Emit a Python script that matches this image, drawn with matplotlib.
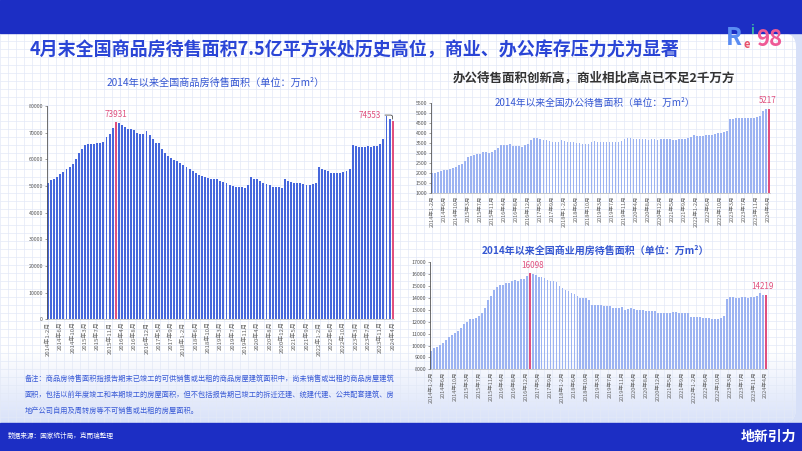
import matplotlib
matplotlib.use('Agg')
import matplotlib.pyplot as plt
import numpy as np
from matplotlib.patches import Rectangle, FancyBboxPatch
from matplotlib.collections import LineCollection

plt.rcParams['font.family'] = ['Noto Sans CJK SC', 'DejaVu Sans']

W, H = 802, 451

# x tick labels, one every 4 months (2014年1-2月 ... 2024年4月, 113 bars)
tick_labels = ['2014年1-2月', '2014年6月', '2014年10月', '2015年3月', '2015年7月', '2015年11月',
               '2016年4月', '2016年8月', '2016年12月', '2017年5月', '2017年9月', '2018年1-2月',
               '2018年6月', '2018年10月', '2019年3月', '2019年7月', '2019年11月', '2020年4月',
               '2020年8月', '2020年12月', '2021年5月', '2021年9月', '2022年1-2月', '2022年6月',
               '2022年10月', '2023年3月', '2023年7月', '2023年11月', '2024年4月']

# 全国商品房待售面积 (万m2)
total_stock = [51250, 52250, 52750, 53500, 54500, 55250, 56250, 57250, 58250, 60000, 62250,
               64000, 65250, 65600, 65750, 65750, 66250, 66250, 66500, 68250, 69400, 71900,
               73931, 73700, 72750, 72250, 71500, 71500, 71000, 69750, 69500, 69500, 70500,
               69000, 67750, 66250, 66000, 64000, 62500, 61250, 60500, 59750, 59250, 58750,
               58000, 57000, 56500, 55750, 55000, 54250, 53750, 53250, 53000, 52750, 52750,
               52500, 52000, 51500, 51000, 50250, 50000, 49750, 49500, 49500, 49250, 50250,
               53250, 52750, 52500, 51750, 51250, 50750, 50250, 49750, 49750, 49500, 49250,
               52500, 51750, 51500, 51250, 51250, 51000, 50750, 50500, 50500, 50750, 51000,
               57250, 56250, 56000, 55750, 55000, 55000, 54750, 54750, 55250, 55500, 56500,
               65500, 65000, 64750, 64500, 64750, 65000, 64750, 65000, 65000, 65750, 67500,
               76250, 75250, 74553]
total_marks = [22, 112]

# 全国办公待售面积 (万m2)
office_stock = [2000, 2020, 2050, 2100, 2150, 2170, 2220, 2270, 2330, 2400, 2470,
                2630, 2830, 2870, 2920, 2950, 2980, 3070, 3070, 3000, 3070, 3150,
                3280, 3430, 3400, 3430, 3450, 3370, 3370, 3370, 3330, 3400, 3470,
                3670, 3780, 3750, 3700, 3670, 3670, 3630, 3580, 3580, 3580, 3670,
                3630, 3580, 3580, 3570, 3500, 3500, 3470, 3470, 3470, 3570, 3630,
                3580, 3560, 3550, 3550, 3560, 3570, 3580, 3580, 3600, 3730, 3750,
                3760, 3720, 3710, 3700, 3700, 3700, 3690, 3700, 3700, 3690, 3700,
                3730, 3710, 3700, 3680, 3690, 3700, 3720, 3730, 3760, 3800, 3900,
                3870, 3850, 3880, 3900, 3910, 3920, 3950, 4000, 4030, 4060, 4100,
                4700, 4720, 4770, 4770, 4770, 4750, 4760, 4760, 4770, 4800, 4870,
                5130, 5200, 5217]
office_marks = [112]

# 全国商业用房待售面积 (万m2)
commercial_stock = [9570, 9760, 9900, 10040, 10240, 10460, 10690, 10860, 11080, 11250, 11450,
                    11800, 12000, 12200, 12260, 12300, 12480, 12700, 13150, 13820, 14200, 14660,
                    14890, 15060, 15100, 15220, 15300, 15450, 15500, 15450, 15560, 15600, 15850,
                    16098, 16040, 15950, 15780, 15730, 15640, 15500, 15450, 15390, 15360, 15000,
                    14800, 14660, 14550, 14380, 14300, 14160, 13990, 13990, 13960, 13820, 13380,
                    13380, 13400, 13380, 13320, 13320, 13320, 13150, 13150, 13150, 13200, 12980,
                    13100, 13150, 13050, 12980, 12980, 12980, 12930, 12930, 12930, 12930, 12700,
                    12700, 12700, 12760, 12760, 12810, 12810, 12760, 12700, 12700, 12700, 12420,
                    12370, 12370, 12370, 12310, 12310, 12310, 12260, 12260, 12260, 12310, 12480,
                    13940, 14050, 14050, 14000, 14000, 14050, 14050, 14000, 14050, 14050, 14200,
                    14380, 14270, 14219]
commercial_marks = [33, 112]

BLUE_DARK = '#1c2ec4'
TITLE_BLUE = '#2a45d6'
SUB_BLUE = '#3557d2'
MARK_RED = '#e0507e'


def px(x, y):
    return x / W, 1 - y / H


def add_chart(values, marks, left, right, top, bottom, ylim, ystep, color, labelsize):
    ax = fig.add_axes([left / W, 1 - bottom / H, (right - left) / W, (bottom - top) / H])
    ax.patch.set_alpha(0)
    x = np.arange(len(values))
    colors = [MARK_RED if i in marks else color for i in x]
    ax.bar(x, np.array(values) - ylim[0], bottom=ylim[0], width=0.62, color=colors,
           linewidth=0, antialiased=False)
    ax.set_xlim(-0.5, len(values) - 0.5)
    ax.set_ylim(*ylim)
    ax.set_yticks(np.arange(ylim[0], ylim[1] + 1, ystep))
    ax.set_xticks(np.arange(0, len(values), 4))
    ax.set_xticklabels(tick_labels, rotation=90, fontsize=labelsize, color='#666666')
    ax.tick_params(axis='y', labelsize=3.8, colors='#555555', length=1.5, width=0.4, pad=1)
    ax.tick_params(axis='x', length=0, pad=1.5)
    for s in ['top', 'right']:
        ax.spines[s].set_visible(False)
    ax.spines['left'].set_color('#555555')
    ax.spines['left'].set_linewidth(0.6)
    ax.spines['bottom'].set_color('#aaaaaa')
    ax.spines['bottom'].set_linewidth(0.4)
    return ax


fig = plt.figure(figsize=(W / 100, H / 100), dpi=100)

# slide background
bg = fig.add_axes([0, 0, 1, 1])
bg.set_xlim(0, W)
bg.set_ylim(H, 0)
bg.axis('off')
bg.add_patch(Rectangle((0, 0), W, H, color='#d7e0f8', zorder=0))
panel = FancyBboxPatch((-20, 33), 816, 390, boxstyle='round,pad=0,rounding_size=14',
                       fc='white', ec='none', zorder=1)
bg.add_patch(panel)
grad = np.zeros((100, 2, 4))
grad[..., :3] = np.array([0.80, 0.85, 0.97])
grad[..., 3] = np.linspace(0, 0.75, 100)[:, None]
im = bg.imshow(grad, extent=(0, 796, 423, 350), aspect='auto', zorder=2)
im.set_clip_path(panel)
segs = [[(gx, 33), (gx, 423)] for gx in np.arange(0, W, 8)]
segs += [[(0, gy), (W, gy)] for gy in np.arange(33, 423, 8)]
lc = LineCollection(segs, colors='#e3e9f7', linewidths=0.5, zorder=3)
bg.add_collection(lc)
lc.set_clip_path(panel)
bg.add_patch(Rectangle((0, 0), W, 33, color=BLUE_DARK, zorder=4))
bg.add_patch(Rectangle((0, 423), W, 28, color=BLUE_DARK, zorder=4))
bg.set_xlim(0, W)
bg.set_ylim(H, 0)

# logo
fig.text(*px(726, 38), 'R', fontsize=17, color='#5a8cf2', weight='bold', va='center')
fig.text(*px(744, 44), 'e', fontsize=8, color='#e8506a', weight='bold', va='center')
fig.text(*px(750, 30), 'i', fontsize=9, color='#3cb4a0', weight='bold', va='center')
fig.text(*px(756, 40), '98', fontsize=16, color='#ee5a96', weight='bold', va='center')

# titles
fig.text(*px(30, 50), '4月末全国商品房待售面积7.5亿平方米处历史高位，商业、办公库存压力尤为显著',
         fontsize=13, color=TITLE_BLUE, weight='bold', va='center')
fig.text(*px(216, 83), '2014年以来全国商品房待售面积（单位：万m²）', fontsize=7.3,
         color=SUB_BLUE, ha='center', va='center')
fig.text(*px(594, 78), '办公待售面积创新高，商业相比高点已不足2千万方', fontsize=9,
         color='#333333', weight='bold', ha='center', va='center')
fig.text(*px(595, 103), '2014年以来全国办公待售面积（单位：万m²）', fontsize=7,
         color=SUB_BLUE, ha='center', va='center')
fig.text(*px(595, 251), '2014年以来全国商业用房待售面积（单位：万m²）', fontsize=7.2,
         color=SUB_BLUE, weight='bold', ha='center', va='center')

# charts
ax1 = add_chart(total_stock, total_marks, 46.5, 394.2, 106, 319.3, (0, 80000), 10000, '#4667dc', 4.3)
ax1.annotate(f'{total_stock[22]}', xy=(22, total_stock[22]), xytext=(0, 2.5),
             textcoords='offset points', ha='center', va='bottom', fontsize=5.8, color=MARK_RED)
ax1.annotate(f'{total_stock[112]}', xy=(112, total_stock[112]), xytext=(104.5, 76600),
             ha='center', va='center', fontsize=5.8, color=MARK_RED,
             arrowprops=dict(arrowstyle='-', color='#333333', lw=0.5,
                             connectionstyle='angle,angleA=0,angleB=90,rad=2', shrinkA=1, shrinkB=1))

ax2 = add_chart(office_stock, office_marks, 430.8, 770.2, 103.3, 193.3, (1000, 5500), 500, '#9cb3f2', 4.0)
ax2.annotate(f'{office_stock[112]}', xy=(112, office_stock[112]), xytext=(-1, 2.5),
             textcoords='offset points', ha='center', va='bottom', fontsize=5.8, color=MARK_RED)

ax3 = add_chart(commercial_stock, commercial_marks, 429.5, 767.2, 262.3, 369.3, (8000, 17000), 1000, '#9cb3f2', 4.0)
ax3.annotate(f'{commercial_stock[33]}', xy=(33, commercial_stock[33]), xytext=(2, 2),
             textcoords='offset points', ha='center', va='bottom', fontsize=5.8, color=MARK_RED)
ax3.annotate(f'{commercial_stock[112]}', xy=(112, commercial_stock[112]), xytext=(-2, 3),
             textcoords='offset points', ha='center', va='bottom', fontsize=5.8, color=MARK_RED)

# note and footer
note = ['备注：商品房待售面积指报告期末已竣工的可供销售或出租的商品房屋建筑面积中，尚未销售或出租的商品房屋建筑',
        '面积，包括以前年度竣工和本期竣工的房屋面积，但不包括报告期已竣工的拆迁还建、统建代建、公共配套建筑、房',
        '地产公司自用及周转房等不可销售或出租的房屋面积。']
for i, line in enumerate(note):
    fig.text(*px(25, 379 + i * 16), line, fontsize=5.2, color='#3a5bd6', va='center')

fig.text(*px(8, 436), '数据来源：国家统计局，克而瑞整理', fontsize=4.8, color='white', va='center')
fig.text(*px(768, 437), '地新引力', fontsize=10, color='white', weight='bold', ha='center', va='center')

fig.savefig('out.png', dpi=100)
